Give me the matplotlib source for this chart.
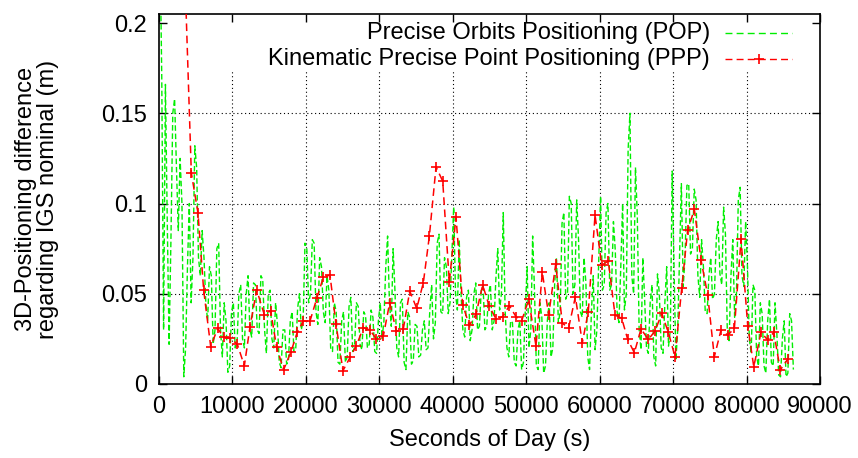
import numpy as np
import matplotlib
matplotlib.use("Agg")
import matplotlib.pyplot as plt
from matplotlib.lines import Line2D

plt.rcParams['font.family'] = ['Liberation Sans', 'DejaVu Sans']

# PPP solution (every ~15 min)
ppp_t = [3500, 4400, 5310, 6080, 7040, 7990, 8810, 9710, 10660, 11620, 12390, 13300,
         14340, 15200, 16020, 16970, 17970, 18830, 19650, 20560, 21510, 22380, 23280,
         24100, 25050, 26050, 26870, 27820, 28730, 29590, 30550, 31410, 32320, 33270,
         34140, 35090, 35990, 36810, 37720, 38630, 39530, 40440, 41350, 42250, 43160,
         44070, 44980, 45890, 46800, 47700, 48610, 49380, 50340, 51330, 52190, 53060,
         54010, 54920, 55780, 56690, 57640, 58450, 59370, 60280, 61180, 62090, 63000,
         63820, 64720, 65630, 66620, 67540, 68450, 69350, 70260, 71170, 71980, 72890,
         73800, 74710, 75610, 76520, 77440, 78340, 79250, 80160, 80980, 81970, 82880,
         83700, 84600, 85610]
ppp_d = [0.23, 0.117, 0.0947, 0.052, 0.0207, 0.0308, 0.0258, 0.0253, 0.0221, 0.0101,
         0.0317, 0.0522, 0.0384, 0.0406, 0.0203, 0.0079, 0.0179, 0.0286, 0.0349, 0.0349,
         0.0478, 0.0592, 0.0604, 0.0332, 0.0074, 0.0150, 0.0212, 0.0312, 0.0299, 0.0249,
         0.0267, 0.0450, 0.0292, 0.0306, 0.0515, 0.0419, 0.0561, 0.0819, 0.1203, 0.1124,
         0.0566, 0.0926, 0.0439, 0.0325, 0.0386, 0.0548, 0.0430, 0.0360, 0.0373, 0.0434,
         0.0373, 0.0350, 0.0469, 0.0210, 0.0618, 0.0382, 0.0663, 0.0336, 0.0312, 0.0483,
         0.0229, 0.0400, 0.0936, 0.0659, 0.0681, 0.0382, 0.0364, 0.0247, 0.0173, 0.0305,
         0.0247, 0.0293, 0.0391, 0.0286, 0.0151, 0.0530, 0.0853, 0.0967, 0.0687, 0.0493,
         0.0151, 0.0299, 0.0271, 0.0308, 0.0801, 0.0323, 0.0096, 0.0286, 0.0244, 0.0286,
         0.0078, 0.0138]

# POP solution: low / high of the noisy trace in each 500 s block (0 .. 86400 s)
pop_lo = [0.170, 0.030, 0.022, 0.080, 0.120, 0.085, 0.004, 0.020, 0.045, 0.070,
          0.070, 0.060, 0.045, 0.035, 0.022, 0.030, 0.030, 0.015, 0.0065, 0.010,
          0.020, 0.022, 0.025, 0.020, 0.030, 0.026, 0.030, 0.028, 0.030, 0.017,
          0.025, 0.020, 0.012, 0.009, 0.011, 0.013, 0.018, 0.020, 0.030, 0.035,
          0.045, 0.050, 0.040, 0.033, 0.040, 0.034, 0.020, 0.018, 0.012, 0.011,
          0.012, 0.015, 0.018, 0.020, 0.022, 0.019, 0.020, 0.022, 0.018, 0.017,
          0.025, 0.035, 0.045, 0.032, 0.020, 0.015, 0.012, 0.008, 0.011, 0.013,
          0.015, 0.016, 0.019, 0.020, 0.025, 0.034, 0.040, 0.039, 0.039, 0.045,
          0.050, 0.041, 0.030, 0.026, 0.024, 0.030, 0.030, 0.032, 0.030, 0.032,
          0.030, 0.035, 0.041, 0.050, 0.020, 0.015, 0.012, 0.010, 0.008, 0.012,
          0.020, 0.030, 0.010, 0.008, 0.006, 0.010, 0.015, 0.020, 0.034, 0.040,
          0.047, 0.050, 0.050, 0.055, 0.040, 0.037, 0.015, 0.008, 0.019, 0.030,
          0.052, 0.055, 0.052, 0.055, 0.040, 0.034, 0.041, 0.050, 0.060, 0.050,
          0.030, 0.019, 0.020, 0.017, 0.015, 0.010, 0.020, 0.017, 0.021, 0.030,
          0.013, 0.030, 0.054, 0.070, 0.072, 0.075, 0.060, 0.048, 0.040, 0.039,
          0.047, 0.050, 0.061, 0.055, 0.030, 0.024, 0.037, 0.050, 0.060, 0.054,
          0.025, 0.017, 0.015, 0.010, 0.010, 0.006, 0.012, 0.010, 0.005, 0.004,
          0.004, 0.006, 0.008]
pop_hi = [0.250, 0.166, 0.090, 0.150, 0.158, 0.125, 0.100, 0.065, 0.100, 0.132,
          0.120, 0.085, 0.070, 0.065, 0.060, 0.075, 0.078, 0.045, 0.035, 0.040,
          0.045, 0.050, 0.055, 0.050, 0.060, 0.056, 0.055, 0.060, 0.058, 0.050,
          0.052, 0.045, 0.033, 0.030, 0.030, 0.035, 0.040, 0.042, 0.050, 0.078,
          0.075, 0.080, 0.078, 0.070, 0.065, 0.060, 0.052, 0.045, 0.040, 0.035,
          0.040, 0.043, 0.048, 0.045, 0.043, 0.040, 0.038, 0.041, 0.037, 0.035,
          0.045, 0.065, 0.082, 0.075, 0.052, 0.045, 0.047, 0.040, 0.037, 0.033,
          0.032, 0.030, 0.035, 0.041, 0.055, 0.078, 0.083, 0.070, 0.065, 0.071,
          0.098, 0.080, 0.050, 0.048, 0.052, 0.050, 0.056, 0.052, 0.054, 0.050,
          0.055, 0.059, 0.075, 0.095, 0.041, 0.035, 0.034, 0.030, 0.035, 0.041,
          0.065, 0.082, 0.052, 0.045, 0.037, 0.035, 0.045, 0.056, 0.070, 0.089,
          0.095, 0.104, 0.100, 0.102, 0.080, 0.070, 0.056, 0.040, 0.060, 0.069,
          0.104, 0.095, 0.100, 0.090, 0.074, 0.065, 0.100, 0.130, 0.150, 0.120,
          0.093, 0.070, 0.047, 0.045, 0.055, 0.061, 0.050, 0.045, 0.065, 0.118,
          0.065, 0.070, 0.111, 0.110, 0.111, 0.108, 0.102, 0.080, 0.065, 0.060,
          0.070, 0.080, 0.090, 0.098, 0.083, 0.060, 0.080, 0.102, 0.109, 0.090,
          0.065, 0.055, 0.052, 0.045, 0.039, 0.035, 0.047, 0.045, 0.028, 0.025,
          0.035, 0.039, 0.035]

# zig-zag trace through each block: low->high or high->low
pop_t, pop_d = [], []
for k, (lo, hi) in enumerate(zip(pop_lo, pop_hi)):
    a, b = (hi, lo) if k % 2 == 0 else (lo, hi)
    pop_t += [k * 500 + 125, k * 500 + 375]
    pop_d += [a, b]

green = '#00ee00'
red = '#ff0000'
fs = 17

fig = plt.figure(figsize=(8.58, 4.58), dpi=100)
ax = fig.add_axes([159 / 858, 1 - 384 / 458, 661 / 858, 370 / 458])

ax.plot(pop_t, pop_d, color=green, lw=1.0, ls=(0, (4, 2)), zorder=3)
ax.plot(ppp_t, ppp_d, color=red, lw=1.1, ls=(0, (5, 3)), marker='+', ms=7,
        mew=1.2, zorder=4)

ax.set_xlim(0, 90000)
ax.set_ylim(0, 0.205)
xt = np.arange(0, 90001, 10000)
yt = [0, 0.05, 0.1, 0.15, 0.2]
ax.set_xticks(xt)
ax.set_xticklabels([str(v) for v in xt])
ax.set_yticks(yt)
ax.set_yticklabels(['0', '0.05', '0.1', '0.15', '0.2'])

# grid stops under the key area, like gnuplot
ax.vlines(xt[1:-1], 0, 0.174, colors='black', lw=0.8, linestyles=(0, (1, 2.5)), zorder=1)
ax.hlines(yt[1:-1], 0, 90000, colors='black', lw=0.8, linestyles=(0, (1, 2.5)), zorder=1)

ax.tick_params(direction='in', length=6, width=1, top=True, right=True,
               labelsize=fs, pad=8.3)
ax.tick_params(axis='y', pad=8.5)
for s in ax.spines.values():
    s.set_linewidth(1.2)

ax.set_xlabel('Seconds of Day (s)', fontsize=fs, labelpad=8.3)
ax.set_ylabel('3D-Positioning difference\nregarding IGS nominal (m)', fontsize=fs,
              linespacing=1.0)
ax.yaxis.set_label_coords(-0.152, 0.5)

# key, right-justified text as in gnuplot
key = [('Precise Orbits Positioning (POP)', green, None, 0.9486),
       ('Kinematic Precise Point Positioning (PPP)', red, '+', 0.878)]
for label, col, mk, yy in key:
    ax.text(0.8336, yy, label, transform=ax.transAxes, ha='right', va='center',
            fontsize=fs)
    ax.add_line(Line2D([0.8563, 0.9576], [yy, yy], transform=ax.transAxes,
                       color=col, lw=1.0, ls=(0, (5, 3))))
    if mk:
        ax.add_line(Line2D([0.907], [yy], transform=ax.transAxes, color=col,
                           marker=mk, ms=7, mew=1.2, ls='none'))

fig.savefig('out.png', dpi=100)
